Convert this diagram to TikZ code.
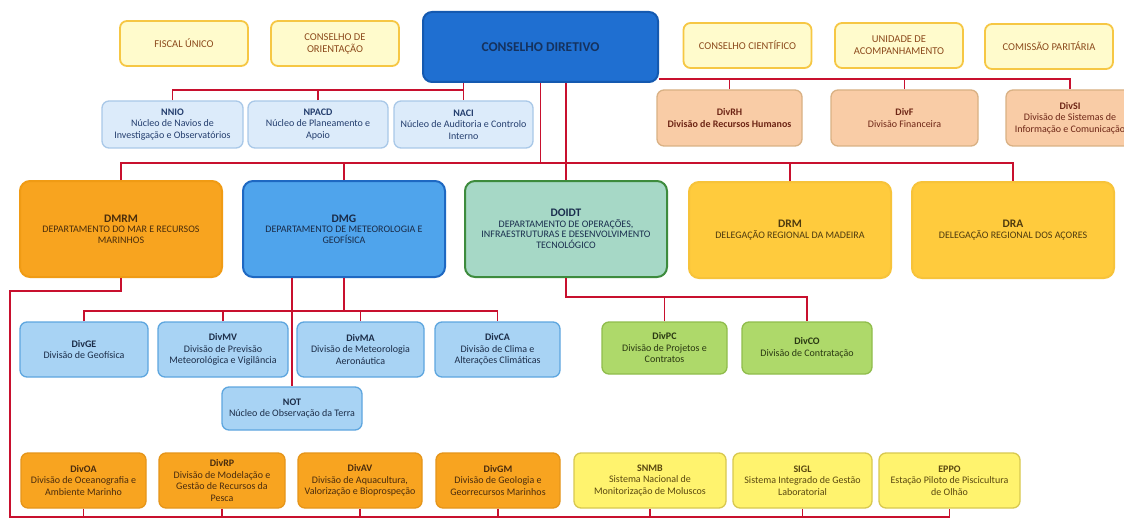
\documentclass[tikz,border=0pt]{standalone}
\usepackage{fontspec}
\setmainfont{Carlito}
\definecolor{linkred}{HTML}{C8102E}
\definecolor{cfill}{HTML}{FFFBCC}
\definecolor{cdraw}{HTML}{F6C744}
\definecolor{ctext}{HTML}{8C4A1C}
\definecolor{dirfill}{HTML}{1F6FD1}
\definecolor{dirdraw}{HTML}{1459B0}
\definecolor{dirtext}{HTML}{15325E}
\definecolor{nfill}{HTML}{DCEBFA}
\definecolor{ndraw}{HTML}{A9C8E8}
\definecolor{ntext}{HTML}{243E6E}
\definecolor{afill}{HTML}{F9CCA6}
\definecolor{adraw}{HTML}{D9B184}
\definecolor{atext}{HTML}{6E2616}
\definecolor{marfill}{HTML}{F8A41F}
\definecolor{mardraw}{HTML}{F09B14}
\definecolor{martext}{HTML}{4B2E0C}
\definecolor{metfill}{HTML}{4FA4EC}
\definecolor{metdraw}{HTML}{1E68C2}
\definecolor{mettext}{HTML}{1A2B47}
\definecolor{opfill}{HTML}{A6D8C6}
\definecolor{opdraw}{HTML}{3D8B3D}
\definecolor{optext}{HTML}{1A2E4E}
\definecolor{delfill}{HTML}{FFCB3D}
\definecolor{deldraw}{HTML}{F7C33A}
\definecolor{deltext}{HTML}{4E3A0E}
\definecolor{gefill}{HTML}{A8D3F4}
\definecolor{gedraw}{HTML}{5EA6DF}
\definecolor{getext}{HTML}{1C2D48}
\definecolor{pcfill}{HTML}{AED96A}
\definecolor{pcdraw}{HTML}{90BD4C}
\definecolor{pctext}{HTML}{2A3812}
\definecolor{oafill}{HTML}{F8A420}
\definecolor{oadraw}{HTML}{E5951A}
\definecolor{oatext}{HTML}{4A2C0E}
\definecolor{sisfill}{HTML}{FFF36E}
\definecolor{sisdraw}{HTML}{D8C850}
\definecolor{sistext}{HTML}{5A4810}
\newcommand{\sigla}[1]{\textbf{#1}}

\begin{document}
\begin{tikzpicture}[x=1pt, y=-1pt,
		unit/.style={draw, rounded corners=7pt, line width=1.3pt, align=center, inner sep=1pt, font=\fontsize{10}{11.5}\selectfont},
		conselho/.style={unit, fill=cfill, draw=cdraw, text=ctext, line width=1.8pt, minimum width=128pt, minimum height=45pt, font=\fontsize{10.5}{12}\selectfont},
		nucleo/.style={unit, fill=nfill, draw=ndraw, text=ntext, minimum width=140pt, minimum height=47pt},
		apoio/.style={unit, fill=afill, draw=adraw, text=atext, minimum width=146pt, minimum height=56pt},
		depto/.style={unit, line width=2pt, rounded corners=10pt, minimum width=202pt, minimum height=96pt, font=\fontsize{10}{10.5}\selectfont},
		divisao/.style={unit, minimum width=126pt, minimum height=55pt},
		link/.style={draw=linkred, line width=1.5pt}]
			\clip (0,0) rectangle (1124,524);
			\fill[white] (0,0) rectangle (1124,524);
			\node[conselho] (fiscal) at (184,43.5) {FISCAL ÚNICO};
			\node[conselho] (orient) at (335,43.5) {CONSELHO DE\\ORIENTAÇÃO};
			\node[unit, fill=dirfill, draw=dirdraw, text=dirtext, minimum width=235pt, minimum height=70pt, line width=2pt, rounded corners=9pt, font=\fontsize{13.5}{15}\selectfont\bfseries] (cd) at (540.5,47) {CONSELHO DIRETIVO};
			\node[conselho] (cient) at (747.5,45.5) {CONSELHO CIENTÍFICO};
			\node[conselho] (acomp) at (899,45.5) {UNIDADE DE\\ACOMPANHAMENTO};
			\node[conselho] (comiss) at (1049,46.5) {COMISSÃO PARITÁRIA};
			\node[nucleo, minimum width=141pt] (nnio) at (172.5,124.5) {\sigla{NNIO}\\Núcleo de Navios de\\Investigação e Observatórios};
			\node[nucleo] (npacd) at (318,124.5) {\sigla{NPACD}\\Núcleo de Planeamento e\\Apoio};
			\node[nucleo, minimum width=139pt] (naci) at (463.5,124.5) {\sigla{NACI}\\Núcleo de Auditoria e Controlo\\Interno};
			\node[apoio, minimum width=145pt] (divrh) at (729.5,118) {\sigla{DivRH}\\\textbf{Divisão de Recursos Humanos}};
			\node[apoio, minimum width=147pt] (divf) at (904.5,118) {\sigla{DivF}\\Divisão Financeira};
			\node[apoio, minimum width=128pt] (divsi) at (1070,118) {\sigla{DivSI}\\Divisão de Sistemas de\\Informação e Comunicação};
			\node[depto, fill=marfill, draw=mardraw, text=martext] (dmrm) at (121,229) {{\fontsize{11.5}{13}\selectfont\sigla{DMRM}}\\DEPARTAMENTO DO MAR E RECURSOS\\MARINHOS};
			\node[depto, fill=metfill, draw=metdraw, text=mettext] (dmg) at (344,229) {{\fontsize{11.5}{13}\selectfont\sigla{DMG}}\\DEPARTAMENTO DE METEOROLOGIA E\\GEOFÍSICA};
			\node[depto, fill=opfill, draw=opdraw, text=optext] (doidt) at (566,229) {{\fontsize{11.5}{13}\selectfont\sigla{DOIDT}}\\DEPARTAMENTO DE OPERAÇÕES,\\INFRAESTRUTURAS E DESENVOLVIMENTO\\TECNOLÓGICO};
			\node[depto, fill=delfill, draw=deldraw, text=deltext] (drm) at (790,230) {{\fontsize{11.5}{13}\selectfont\sigla{DRM}}\\DELEGAÇÃO REGIONAL DA MADEIRA};
			\node[depto, fill=delfill, draw=deldraw, text=deltext] (dra) at (1013,230) {{\fontsize{11.5}{13}\selectfont\sigla{DRA}}\\DELEGAÇÃO REGIONAL DOS AÇORES};
			\node[divisao, fill=gefill, draw=gedraw, text=getext, minimum width=128pt] (divge) at (84,349.5) {\sigla{DivGE}\\Divisão de Geofísica};
			\node[divisao, fill=gefill, draw=gedraw, text=getext, minimum width=130pt] (divmv) at (223,349.5) {\sigla{DivMV}\\Divisão de Previsão\\Meteorológica e Vigilância};
			\node[divisao, fill=gefill, draw=gedraw, text=getext, minimum width=127pt] (divma) at (360.5,349.5) {\sigla{DivMA}\\Divisão de Meteorologia\\Aeronáutica};
			\node[divisao, fill=gefill, draw=gedraw, text=getext, minimum width=125pt] (divca) at (497.5,349.5) {\sigla{DivCA}\\Divisão de Clima e\\Alterações Climáticas};
			\node[divisao, fill=gefill, draw=gedraw, text=getext, minimum width=140pt, minimum height=43pt] (not) at (292,408.5) {\sigla{NOT}\\Núcleo de Observação da Terra};
			\node[divisao, fill=pcfill, draw=pcdraw, text=pctext, minimum width=125pt, minimum height=52pt] (divpc) at (664.5,348) {\sigla{DivPC}\\Divisão de Projetos e\\Contratos};
			\node[divisao, fill=pcfill, draw=pcdraw, text=pctext, minimum width=130pt, minimum height=52pt] (divco) at (807,348) {\sigla{DivCO}\\Divisão de Contratação};
			\node[divisao, fill=oafill, draw=oadraw, text=oatext, minimum width=125pt] (divoa) at (83.5,480.5) {\sigla{DivOA}\\Divisão de Oceanografia e\\Ambiente Marinho};
			\node[divisao, fill=oafill, draw=oadraw, text=oatext] (divrp) at (222,480.5) {\sigla{DivRP}\\Divisão de Modelação e\\Gestão de Recursos da\\Pesca};
			\node[divisao, fill=oafill, draw=oadraw, text=oatext, minimum width=124pt] (divav) at (360,480.5) {\sigla{DivAV}\\Divisão de Aquacultura,\\Valorização e Bioprospeção};
			\node[divisao, fill=oafill, draw=oadraw, text=oatext, minimum width=124pt] (divgm) at (498,480.5) {\sigla{DivGM}\\Divisão de Geologia e\\Georrecursos Marinhos};
			\node[divisao, fill=sisfill, draw=sisdraw, text=sistext, minimum width=152pt] (snmb) at (650,480.5) {\sigla{SNMB}\\Sistema Nacional de\\Monitorização de Moluscos};
			\node[divisao, fill=sisfill, draw=sisdraw, text=sistext, minimum width=139pt] (sigl) at (802.5,480.5) {\sigla{SIGL}\\Sistema Integrado de Gestão\\Laboratorial};
			\node[divisao, fill=sisfill, draw=sisdraw, text=sistext, minimum width=141pt] (eppo) at (949.5,480.5) {\sigla{EPPO}\\Estação Piloto de Piscicultura\\de Olhão};
			\coordinate (b1) at (463.5,90);
			\coordinate (b2) at (1070,79);
			\coordinate (b3) at (1013,163);
			\coordinate (b4) at (497.5,311);
			\coordinate (b5) at (807,297);
			\coordinate (b6) at (10,291);
			\coordinate (b7) at (10,517);
			\draw[link] (cd.south -| b1) -- (naci.north);
			\draw[link] (nnio.north) |- (b1);
			\draw[link] (npacd.north) -- (npacd.north |- b1);
			\draw[link] (cd.east |- b2) -- (b2) -- (divsi.north);
			\draw[link] (divrh.north) -- (divrh.north |- b2);
			\draw[link] (divf.north) -- (divf.north |- b2);
			\draw[link] (cd.south) -- (cd.south |- b3);
			\draw[link] (dmrm.north) |- (b3) -- (dra.north);
			\draw[link] (dmg.north) -- (dmg.north |- b3);
			\draw[link] (drm.north) -- (drm.north |- b3);
			\draw[link] (doidt.north |- cd.south) -- (doidt.north);
			\draw[link] (dmg.south) -- (dmg.south |- b4);
			\draw[link] (divge.north) |- (b4) -- (divca.north);
			\draw[link] (divmv.north) -- (divmv.north |- b4);
			\draw[link] (divma.north) -- (divma.north |- b4);
			\draw[link] (not.north |- dmg.south) -- (not.north);
			\draw[link] (doidt.south) |- (b5) -- (divco.north);
			\draw[link] (divpc.north) -- (divpc.north |- b5);
			\draw[link] (dmrm.south) |- (b6) -- (b7) -| (eppo.south);
			\draw[link] (divoa.south) -- (divoa.south |- b7);
			\draw[link] (divrp.south) -- (divrp.south |- b7);
			\draw[link] (divav.south) -- (divav.south |- b7);
			\draw[link] (divgm.south) -- (divgm.south |- b7);
			\draw[link] (snmb.south) -- (snmb.south |- b7);
			\draw[link] (sigl.south) -- (sigl.south |- b7);
		\end{tikzpicture}
\end{document}
